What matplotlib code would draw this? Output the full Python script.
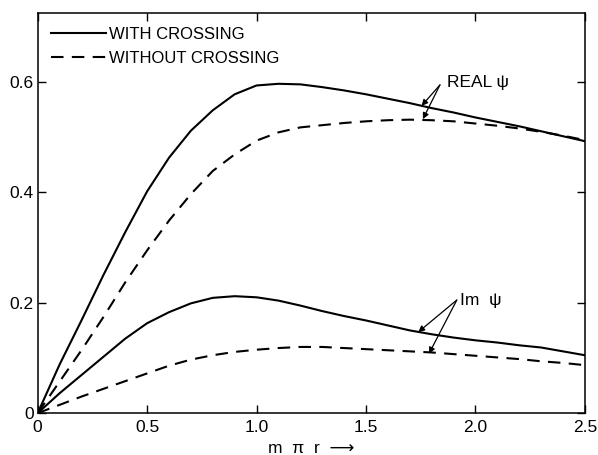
import matplotlib
matplotlib.use('agg')
import matplotlib.pyplot as plt
import numpy as np

plt.rcParams['font.family'] = ['Liberation Sans', 'DejaVu Sans']

# values
x = [0.0, 0.1, 0.2, 0.3, 0.4, 0.5, 0.6, 0.7, 0.8, 0.9, 1.0, 1.1, 1.2,
     1.3, 1.4, 1.5, 1.6, 1.7, 1.8, 1.9, 2.0, 2.1, 2.2, 2.3, 2.4, 2.5]

real_with = [0.0, 0.088, 0.168, 0.250, 0.328, 0.402, 0.463, 0.512, 0.549, 0.578,
             0.594, 0.597, 0.596, 0.591, 0.585, 0.578, 0.570, 0.562, 0.553, 0.545,
             0.536, 0.528, 0.520, 0.511, 0.502, 0.493]
real_without = [0.0, 0.057, 0.114, 0.174, 0.237, 0.295, 0.349, 0.397, 0.439, 0.469,
                0.494, 0.509, 0.518, 0.522, 0.526, 0.529, 0.531, 0.532, 0.531, 0.529,
                0.525, 0.521, 0.516, 0.510, 0.503, 0.495]
im_with = [0.0, 0.036, 0.069, 0.102, 0.135, 0.163, 0.183, 0.199, 0.209, 0.212,
           0.210, 0.204, 0.195, 0.185, 0.176, 0.168, 0.159, 0.150, 0.143, 0.137,
           0.132, 0.128, 0.123, 0.119, 0.112, 0.105]
im_without = [0.0, 0.015, 0.030, 0.044, 0.058, 0.072, 0.086, 0.097, 0.105, 0.111,
              0.115, 0.118, 0.120, 0.120, 0.118, 0.116, 0.114, 0.112, 0.110, 0.107,
              0.104, 0.101, 0.098, 0.094, 0.091, 0.087]

xticks = [0, 0.5, 1.0, 1.5, 2.0, 2.5]
xticklabels = ['0', '0.5', '1.0', '1.5', '2.0', '2.5']
yticks = [0, 0.2, 0.4, 0.6]
yticklabels = ['0', '0.2', '0.4', '0.6']

fig = plt.figure(figsize=(5.98, 4.55), dpi=100)
ax = fig.add_axes([0.063, 0.092, 0.915, 0.879])

lw = 1.5
ax.plot(x, real_with, color='black', lw=lw, label='WITH CROSSING')
ax.plot(x, real_without, color='black', lw=lw, ls=(0, (6, 4)), label='WITHOUT CROSSING')
ax.plot(x, im_with, color='black', lw=lw)
ax.plot(x, im_without, color='black', lw=lw, ls=(0, (6, 4)))

ax.set_xlim(0, 2.5)
ax.set_ylim(0, 0.725)
ax.set_xticks(xticks)
ax.set_xticklabels(xticklabels)
ax.set_yticks(yticks)
ax.set_yticklabels(yticklabels)
ax.tick_params(direction='in', length=6, width=1, top=True, right=True,
               labelsize=12.5)
ax.tick_params(axis='x', pad=5)
ax.tick_params(axis='y', pad=3)
for s in ax.spines.values():
    s.set_linewidth(1.1)

ax.set_xlabel('m  \u03c0  r  \u27f6', fontsize=12.5, labelpad=4)

leg = ax.legend(loc='upper left', frameon=False, fontsize=12,
                handlelength=3.3, handletextpad=0.2, borderaxespad=0.5,
                borderpad=0.3, labelspacing=0.55)

arrow = dict(arrowstyle='-|>', color='black', lw=0.9, mutation_scale=9,
             shrinkA=0, shrinkB=0)
ax.text(1.87, 0.6, 'REAL \u03c8', fontsize=12.5, va='center')
ax.annotate('', xy=(1.754, 0.557), xytext=(1.838, 0.595), arrowprops=arrow)
ax.annotate('', xy=(1.76, 0.533), xytext=(1.838, 0.595), arrowprops=arrow)

ax.text(1.93, 0.205, 'Im  \u03c8', fontsize=12.5, va='center')
ax.annotate('', xy=(1.739, 0.147), xytext=(1.915, 0.205), arrowprops=arrow)
ax.annotate('', xy=(1.788, 0.108), xytext=(1.915, 0.205), arrowprops=arrow)

fig.savefig('out.png', dpi=100)
